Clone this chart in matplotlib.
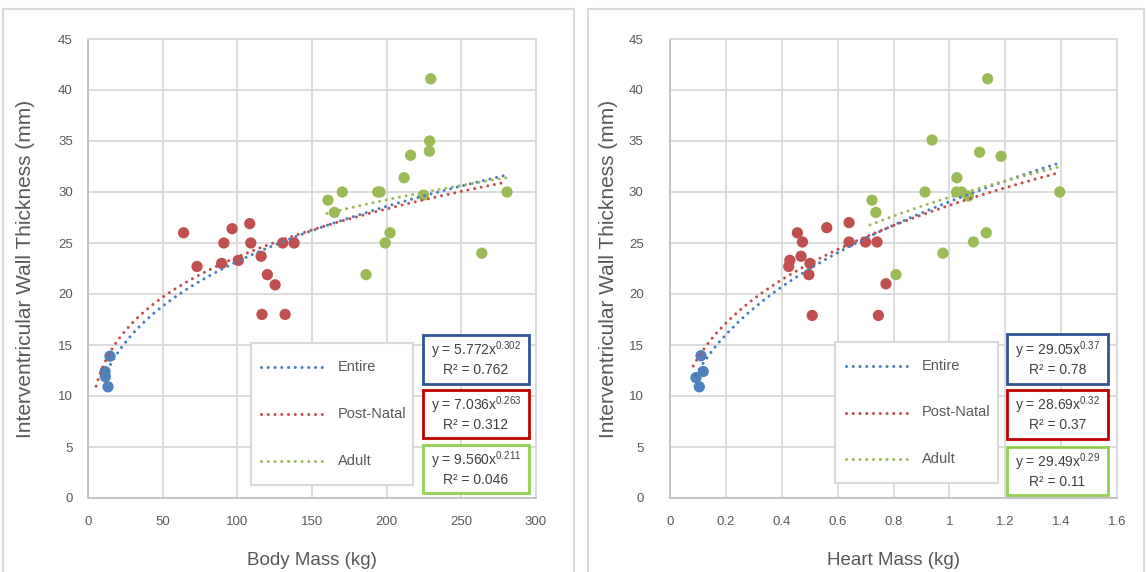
import numpy as np
import matplotlib
matplotlib.use("Agg")
import matplotlib.pyplot as plt
from matplotlib.patches import Rectangle
from matplotlib.lines import Line2D

plt.rcParams['font.family'] = ['Liberation Sans', 'DejaVu Sans']
plt.rcParams['mathtext.fontset'] = 'custom'
plt.rcParams['mathtext.rm'] = 'Liberation Sans'
plt.rcParams['mathtext.it'] = 'Liberation Sans'

# ---------------- data ----------------
series_names = ["Entire", "Post-Natal", "Adult"]

body_fetal_x = [14.7, 11.4, 11.6, 13.4]
body_fetal_y = [13.9, 12.4, 11.9, 10.9]
body_post_x = [64, 73, 91, 96.5, 89.5, 100.7, 108.3, 109, 115.9, 120.1, 125.3, 130.4, 138, 116.5, 132]
body_post_y = [26.0, 22.7, 25.0, 26.4, 23.0, 23.3, 26.9, 25.0, 23.7, 21.9, 20.9, 25.0, 25.0, 18.0, 18.0]
body_adult_x = [229.5, 228.8, 228.6, 216, 211.7, 170.3, 194, 195.6, 160.7, 165, 224.6, 280.6, 202.3, 199, 263.7, 186.2]
body_adult_y = [41.1, 35.0, 34.0, 33.6, 31.4, 30.0, 30.0, 30.0, 29.2, 28.0, 29.7, 30.0, 26.0, 25.0, 24.0, 21.9]

heart_fetal_x = [0.111, 0.119, 0.093, 0.105]
heart_fetal_y = [13.95, 12.4, 11.8, 10.9]
heart_post_x = [0.456, 0.561, 0.641, 0.474, 0.641, 0.700, 0.741, 0.469, 0.429, 0.425, 0.501, 0.497, 0.773, 0.509, 0.746]
heart_post_y = [26.0, 26.5, 27.0, 25.1, 25.1, 25.1, 25.1, 23.7, 23.3, 22.7, 23.0, 21.9, 21.0, 17.9, 17.9]
heart_adult_x = [1.137, 0.938, 1.108, 1.185, 1.027, 0.913, 1.026, 1.044, 1.068, 1.395, 0.723, 0.737, 1.132, 1.086, 0.977, 0.809]
heart_adult_y = [41.1, 35.1, 33.9, 33.5, 31.4, 30.0, 30.0, 30.0, 29.6, 30.0, 29.2, 28.0, 26.0, 25.1, 24.0, 21.9]

# power-law trendlines y = a * x^b (coefficients as displayed)
body_coef_a = [5.772, 7.036, 9.560]
body_coef_b = [0.302, 0.263, 0.211]
body_r2 = ["0.762", "0.312", "0.046"]
body_eq_a = ["5.772", "7.036", "9.560"]
body_eq_b = ["0.302", "0.263", "0.211"]
body_trend_start = [11, 5.4, 160]
body_trend_end = [280, 279, 281]

heart_coef_a = [29.05, 28.69, 29.49]
heart_coef_b = [0.37, 0.32, 0.29]
heart_r2 = ["0.78", "0.37", "0.11"]
heart_eq_a = ["29.05", "28.69", "29.49"]
heart_eq_b = ["0.37", "0.32", "0.29"]
heart_trend_start = [0.093, 0.083, 0.716]
heart_trend_end = [1.392, 1.392, 1.392]

body_xticks = [0, 50, 100, 150, 200, 250, 300]
heart_xticks = [0, 0.2, 0.4, 0.6, 0.8, 1, 1.2, 1.4, 1.6]
heart_xticklabels = ["0", "0.2", "0.4", "0.6", "0.8", "1", "1.2", "1.4", "1.6"]
yticks = [0, 5, 10, 15, 20, 25, 30, 35, 40, 45]

# ---------------- style ----------------
W, H = 1146, 572
marker_cols = ["#4f81bd", "#c0504d", "#9bbb59"]
trend_cols = ["#4a7ebb", "#c0504d", "#9bbb59"]
box_cols = ["#2f5597", "#c00000", "#92d050"]
grid_col = "#d9d9d9"
text_col = "#595959"
DOT = (0, (0.01, 2.2))

fig = plt.figure(figsize=(W / 100, H / 100), dpi=100)


def fx(px):
    return px / W


def fy(py):
    return 1 - py / H


# panel borders
for (x0, x1) in [(3, 574), (588, 1144)]:
    fig.patches.append(Rectangle((fx(x0), fy(580)), fx(x1 - x0), (580 - 9) / H,
                                 transform=fig.transFigure, fill=False,
                                 edgecolor=grid_col, lw=1.5))


def make_panel(ax_px, xs, ys, coef_a, coef_b, tstart, tend, xlim, xticks, xticklabels,
               xlabel, ypad, ylabel_x, legend_px, box_px, eq_a, eq_b, r2):
    l, r, t, b = ax_px
    ax = fig.add_axes([fx(l), fy(b), fx(r - l), (b - t) / H])
    ax.set_xlim(*xlim)
    ax.set_ylim(0, 45)
    ax.set_xticks(xticks)
    ax.set_xticklabels(xticklabels)
    ax.set_yticks(yticks)
    ax.grid(True, color=grid_col, lw=1.3)
    ax.set_axisbelow(True)
    for s in ax.spines.values():
        s.set_color(grid_col)
        s.set_linewidth(1.3)
    ax.spines['left'].set_color('#bfbfbf')
    ax.spines['bottom'].set_color('#bfbfbf')
    ax.tick_params(length=0, labelsize=9.5, colors=text_col)
    ax.tick_params(axis='y', pad=ypad)
    ax.tick_params(axis='x', pad=13)
    for px, py, c in zip(xs, ys, marker_cols):
        ax.scatter(px, py, s=66, color=c, edgecolors='none', zorder=3)
    for a, bb, s0, s1, c in zip(coef_a, coef_b, tstart, tend, trend_cols):
        xx = np.linspace(s0, s1, 300)
        ax.plot(xx, a * xx ** bb, color=c, lw=2.2, linestyle=DOT,
                dash_capstyle='round', zorder=4)
    ax.set_xlabel(xlabel, fontsize=13.5, color=text_col)
    ax.xaxis.set_label_coords(0.5, -(552 - b) / (b - t))
    ax.set_ylabel("Interventricular Wall Thickness (mm)", fontsize=15, color=text_col)
    ax.yaxis.set_label_coords(-(l - ylabel_x) / (r - l), 0.5)

    # legend box
    lx0, ly0, lx1, ly1, hx0, hx1, tx = legend_px
    fig.patches.append(Rectangle((fx(lx0), fy(ly1)), fx(lx1 - lx0), (ly1 - ly0) / H,
                                 transform=fig.transFigure, facecolor='white',
                                 edgecolor=grid_col, lw=1.5, zorder=5))
    rows = [ly0 + (ly1 - ly0) * f for f in (0.17, 0.5, 0.83)]
    for c, yy, name in zip(trend_cols, rows, series_names):
        ln = Line2D([fx(hx0), fx(hx1)], [fy(yy), fy(yy)], transform=fig.transFigure,
                    color=c, lw=2.2, linestyle=DOT,
                    dash_capstyle='round', zorder=6)
        fig.lines.append(ln)
        fig.text(fx(tx), fy(yy), name, fontsize=10.5, color=text_col,
                 va='center', ha='left', zorder=6)

    # equation boxes
    bx0, bx1, boxes_y = box_px
    for (y0, y1), c, ea, eb, rr in zip(boxes_y, box_cols, eq_a, eq_b, r2):
        fig.patches.append(Rectangle((fx(bx0), fy(y1)), fx(bx1 - bx0), (y1 - y0) / H,
                                     transform=fig.transFigure, facecolor='white',
                                     edgecolor=c, lw=2, zorder=5))
        cx = (bx0 + bx1) / 2
        fig.text(fx(cx), fy(y0 + (y1 - y0) * 0.32), "y = %sx$^{%s}$" % (ea, eb),
                 fontsize=10, color='#404040', ha='center', va='center', zorder=6)
        fig.text(fx(cx), fy(y0 + (y1 - y0) * 0.72), "R\u00b2 = %s" % rr,
                 fontsize=10, color='#404040', ha='center', va='center', zorder=6)
    return ax


make_panel((88, 536, 39, 498),
           [body_fetal_x, body_post_x, body_adult_x],
           [body_fetal_y, body_post_y, body_adult_y],
           body_coef_a, body_coef_b, body_trend_start, body_trend_end,
           (0, 300), body_xticks, [str(v) for v in body_xticks], "Body Mass (kg)", 11, 35,
           (251, 343, 413, 485, 261, 326, 338),
           (423, 529, [(335, 384), (390, 438), (445, 493)]),
           body_eq_a, body_eq_b, body_r2)

make_panel((670, 1117, 39, 498),
           [heart_fetal_x, heart_post_x, heart_adult_x],
           [heart_fetal_y, heart_post_y, heart_adult_y],
           heart_coef_a, heart_coef_b, heart_trend_start, heart_trend_end,
           (0, 1.6), heart_xticks, heart_xticklabels, "Heart Mass (kg)", 19, 618,
           (835, 342, 998, 483, 846, 910, 922),
           (1007, 1108, [(334, 384), (390, 439), (447, 495)]),
           heart_eq_a, heart_eq_b, heart_r2)

fig.savefig("out.png", dpi=100)
